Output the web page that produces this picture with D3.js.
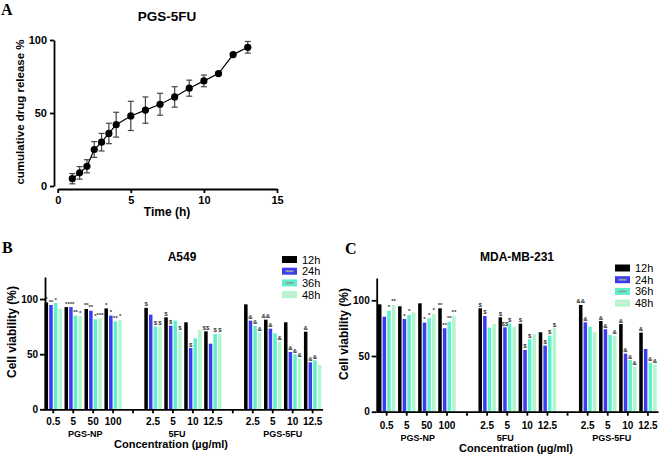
<!DOCTYPE html>
<html>
<head>
<meta charset="utf-8">
<script src="https://cdn.jsdelivr.net/npm/d3@7"></script>
<style>
  html, body { margin: 0; padding: 0; background: #fff; }
  svg { display: block; }
</style>
</head>
<body>
<svg id="chart" width="661" height="456"></svg>
<script>
// Panel A: cumulative release of 5FU from PGS-5FU
const releaseTime = [1, 1.5, 2, 2.5, 3, 3.5, 4, 5, 6, 7, 8, 9, 10, 11, 12, 13]
const releaseMean = [5, 9, 13.5, 25, 30, 36, 42, 48, 52, 56, 61, 67, 72, 77, 90, 95]
const releaseSD = [3.5, 4.3, 4.5, 5.4, 6, 7, 8.5, 10, 9, 7.5, 7, 5.5, 4, 1, 1, 4]
const timeTicks = [0, 5, 10, 15]
const releaseTicks = [0, 50, 100]

// Panels B, C: cell viability
const groups = ["PGS-NP", "5FU", "PGS-5FU"]
const concentrations = [["0.5", "5", "50", "100"], ["2.5", "5", "10", "12.5"], ["2.5", "5", "10", "12.5"]]
const timepoints = ["12h", "24h", "36h", "48h"]
const viabilityTicks = [0, 50, 100]

const a549_12h = [97, 92.7, 91, 91.5, 92, 83.4, 78.9, 70.7, 95.2, 81.3, 78.9, 70.4]
const a549_24h = [94.6, 92.7, 89.4, 85, 85.8, 75.8, 55.6, 59.5, 80.4, 73.1, 52, 42.6]
const a549_36h = [96.4, 85, 81.6, 79.8, 75, 80.4, 64.4, 68.3, 75.8, 68.9, 49.8, 44.4]
const a549_48h = [91, 84.6, 82.5, 81, 75, 70.4, 72, 68.3, 69.8, 61.3, 45.9, 40.2]

const mda_12h = [96.4, 94.6, 97.3, 92.8, 92.8, 84.7, 79, 71.3, 95.8, 81.4, 78.7, 71]
const mda_24h = [85.3, 83.2, 80, 74.9, 85.9, 75.7, 55.4, 59.3, 80.2, 74, 52.1, 56.3]
const mda_36h = [90.7, 86.8, 83.8, 80.8, 75.4, 79.3, 65, 68.3, 76.3, 68.9, 46.4, 44]
const mda_48h = [95.8, 89.2, 87.7, 86.2, 78.7, 76.3, 69.8, 74.9, 71.3, 68, 40.7, 42.5]

// significance marks above each bar
const a549Marks_12h = ["*", "*", "**", "*", "$", "$", "", "$$", "", "&&", "", "&"]
const a549Marks_24h = ["**", "***", "**", "*", "", "$", "$", "", "&", "&", "&", "&"]
const a549Marks_36h = ["*", "**", "*", "**", "$", "", "", "$", "&", "", "&", "&"]
const a549Marks_48h = ["", "*", "***", "*", "$", "$", "", "$", "&", "&", "&", ""]

const mdaMarks_12h = ["", "", "", "**", "$", "$", "$", "", "&&", "&", "&", "&"]
const mdaMarks_24h = ["", "*", "*", "**", "$", "$$", "$", "$", "&", "&", "&", ""]
const mdaMarks_36h = ["*", "*", "*", "**", "", "$", "$", "$", "", "", "&", "&"]
const mdaMarks_48h = ["**", "", "*", "**", "", "", "", "$", "", "&", "&", "&"]

const colors = ["#000000", "#3a3cf2", "#5ef0cc", "#b3f5cc"]
const swatchInner = [null, "#9a9aa8", "#8aa8a0", "#d8e8dc"]
const sans = "'Liberation Sans', Arial, sans-serif"
const narrow = "'Liberation Sans Narrow', 'Arial Narrow', 'Liberation Sans', sans-serif"

const svg = d3.select("#chart")

function styleAxis(g, size, family) {
  g.selectAll("path,line").attr("stroke", "#000").attr("stroke-width", 1.8)
  g.selectAll("text")
    .attr("fill", "#000")
    .attr("font-size", size)
    .attr("font-weight", "bold")
    .attr("font-family", family || sans)
}

function panelLetter(text, x, y) {
  svg.append("text")
    .attr("x", x).attr("y", y)
    .attr("font-family", "'Liberation Serif', 'Times New Roman', serif")
    .attr("font-weight", "bold")
    .attr("font-size", 16)
    .text(text)
}

// ---------- Panel A ----------
const xA = d3.scaleLinear().domain([0, 15]).range([57.7, 277])
const yA = d3.scaleLinear().domain([0, 100]).range([186, 40])

panelLetter("A", 1, 15)

svg.append("text")
  .attr("x", 167).attr("y", 21)
  .attr("text-anchor", "middle")
  .attr("font-family", sans).attr("font-weight", "bold").attr("font-size", 13.5)
  .text("PGS-5FU")

svg.append("g")
  .attr("transform", "translate(54,0)")
  .call(d3.axisLeft(yA).tickValues(releaseTicks).tickSize(4).tickSizeOuter(0).tickPadding(3))
  .call(g => styleAxis(g, 11))

svg.append("g")
  .attr("transform", "translate(0,189)")
  .call(d3.axisBottom(xA).tickValues(timeTicks).tickSize(4).tickSizeOuter(0).tickPadding(3))
  .call(g => styleAxis(g, 11))

svg.append("text")
  .attr("transform", "translate(24,112) rotate(-90)")
  .attr("text-anchor", "middle")
  .attr("font-family", sans).attr("font-weight", "bold").attr("font-size", 11.5)
  .text("cumulative drug release %")

svg.append("text")
  .attr("x", 167).attr("y", 216)
  .attr("text-anchor", "middle")
  .attr("font-family", sans).attr("font-weight", "bold").attr("font-size", 12)
  .text("Time (h)")

const release = releaseTime.map((t, i) => ({t, m: releaseMean[i], sd: releaseSD[i]}))

const errA = svg.append("g").attr("stroke", "#444").attr("stroke-width", 1.2)
release.forEach(d => {
  const cx = xA(d.t)
  errA.append("line").attr("x1", cx).attr("x2", cx).attr("y1", yA(d.m - d.sd)).attr("y2", yA(d.m + d.sd))
  errA.append("line").attr("x1", cx - 3).attr("x2", cx + 3).attr("y1", yA(d.m - d.sd)).attr("y2", yA(d.m - d.sd))
  errA.append("line").attr("x1", cx - 3).attr("x2", cx + 3).attr("y1", yA(d.m + d.sd)).attr("y2", yA(d.m + d.sd))
})

svg.append("path")
  .datum(release)
  .attr("fill", "none")
  .attr("stroke", "#000")
  .attr("stroke-width", 1.2)
  .attr("d", d3.line().x(d => xA(d.t)).y(d => yA(d.m)))

svg.append("g").selectAll("circle")
  .data(release)
  .join("circle")
  .attr("cx", d => xA(d.t))
  .attr("cy", d => yA(d.m))
  .attr("r", 3.6)
  .attr("fill", "#000")

// ---------- Panels B and C ----------
const slots = []
groups.forEach((grp, gi) => {
  concentrations[gi].forEach((c, ci) => slots.push({key: `g${gi}c${ci}`, label: c, group: gi, index: gi * 4 + ci}))
  if (gi < groups.length - 1) slots.push({key: `gap${gi}`, label: "", group: null})
})

function barPanel(opts) {
  const {letter, title, series, marks, left, right, yBottom, yTop, letterPos, titleX, legendX, legendTop,
    tickY, groupY, groupShift, conceptX, conceptY, yLabelPos, axisX} = opts

  panelLetter(letter, letterPos[0], letterPos[1])

  const x = d3.scaleBand().domain(slots.map(s => s.key)).range([left, right]).padding(0)
  const y = d3.scaleLinear().domain([0, 120]).range([yBottom, yTop])
  const inner = d3.scaleBand().domain(timepoints).range([0, 17.4]).paddingInner(0.24).paddingOuter(0)

  svg.append("text")
    .attr("x", titleX).attr("y", 261)
    .attr("text-anchor", "middle")
    .attr("font-family", sans).attr("font-weight", "bold").attr("font-size", 12)
    .text(title)

  const rows = slots.filter(s => s.group !== null)
  timepoints.forEach((tp, ti) => {
    const g = svg.append("g")
    rows.forEach(s => {
      const value = series[ti][s.index]
      const bx = x(s.key) + x.bandwidth() / 2 - 8.7 + inner(tp)
      g.append("rect")
        .attr("x", bx)
        .attr("y", y(value))
        .attr("width", inner.bandwidth())
        .attr("height", y(0) - y(value))
        .attr("fill", colors[ti])
      const mark = marks[ti][s.index]
      if (mark) {
        g.append("text")
          .attr("x", bx + inner.bandwidth() / 2)
          .attr("y", y(value) - 1.5)
          .attr("text-anchor", "middle")
          .attr("font-family", sans).attr("font-weight", "bold").attr("font-size", 6)
          .attr("fill", "#333")
          .text(mark)
      }
    })
  })

  svg.append("g")
    .attr("transform", `translate(${axisX},0)`)
    .call(d3.axisLeft(y).tickValues(viabilityTicks).tickSize(5).tickSizeOuter(0).tickPadding(2))
    .call(g => styleAxis(g, 10))

  const labelOf = new Map(slots.map(s => [s.key, s.label]))
  svg.append("g")
    .attr("transform", `translate(0,${yBottom})`)
    .call(d3.axisBottom(x).tickSize(4).tickSizeOuter(0).tickPadding(tickY).tickFormat(k => labelOf.get(k)))
    .call(g => styleAxis(g, 10, narrow))

  groups.forEach((grp, gi) => {
    const first = x(`g${gi}c0`)
    const last = x(`g${gi}c3`) + x.bandwidth()
    svg.append("text")
      .attr("x", (first + last) / 2 + groupShift[gi])
      .attr("y", groupY)
      .attr("text-anchor", "middle")
      .attr("font-family", narrow).attr("font-weight", "bold").attr("font-size", 9)
      .text(grp)
  })

  svg.append("text")
    .attr("x", conceptX)
    .attr("y", conceptY)
    .attr("text-anchor", "middle")
    .attr("font-family", narrow).attr("font-weight", "bold").attr("font-size", 11)
    .text("Concentration (µg/ml)")

  svg.append("text")
    .attr("transform", `translate(${yLabelPos[0]},${yLabelPos[1]}) rotate(-90)`)
    .attr("text-anchor", "middle")
    .attr("font-family", sans).attr("font-weight", "bold").attr("font-size", 12)
    .text("Cell viability (%)")

  const legend = svg.append("g").attr("transform", `translate(${legendX},${legendTop})`)
  timepoints.forEach((tp, ti) => {
    const row = legend.append("g").attr("transform", `translate(0,${ti * 11.7})`)
    row.append("rect").attr("x", 0).attr("y", -3.5).attr("width", 15).attr("height", 7).attr("fill", colors[ti])
    if (swatchInner[ti]) {
      row.append("rect").attr("x", 3.5).attr("y", -1).attr("width", 8).attr("height", 2).attr("fill", swatchInner[ti])
    }
    row.append("text")
      .attr("x", 20).attr("y", 4)
      .attr("font-family", sans).attr("font-size", 11)
      .text(tp)
  })
}

barPanel({
  letter: "B", title: "A549",
  series: [a549_12h, a549_24h, a549_36h, a549_48h],
  marks: [a549Marks_12h, a549Marks_24h, a549Marks_36h, a549Marks_48h],
  left: 43.3, right: 322.6, yBottom: 409.3, yTop: 277, axisX: 45,
  letterPos: [2, 253], titleX: 182, legendX: 282, legendTop: 259.5,
  tickY: 5, groupY: 437, groupShift: [2, -6, 0], conceptX: 171, conceptY: 448, yLabelPos: [16, 332]
})

barPanel({
  letter: "C", title: "MDA-MB-231",
  series: [mda_12h, mda_24h, mda_36h, mda_48h],
  marks: [mdaMarks_12h, mdaMarks_24h, mdaMarks_36h, mdaMarks_48h],
  left: 376.6, right: 658, yBottom: 411.7, yTop: 278, axisX: 376.7,
  letterPos: [345, 254], titleX: 517, legendX: 615, legendTop: 268,
  tickY: 6, groupY: 440.5, groupShift: [1, -12, -6], conceptX: 516, conceptY: 452, yLabelPos: [348, 334]
})
</script>
</body>
</html>
